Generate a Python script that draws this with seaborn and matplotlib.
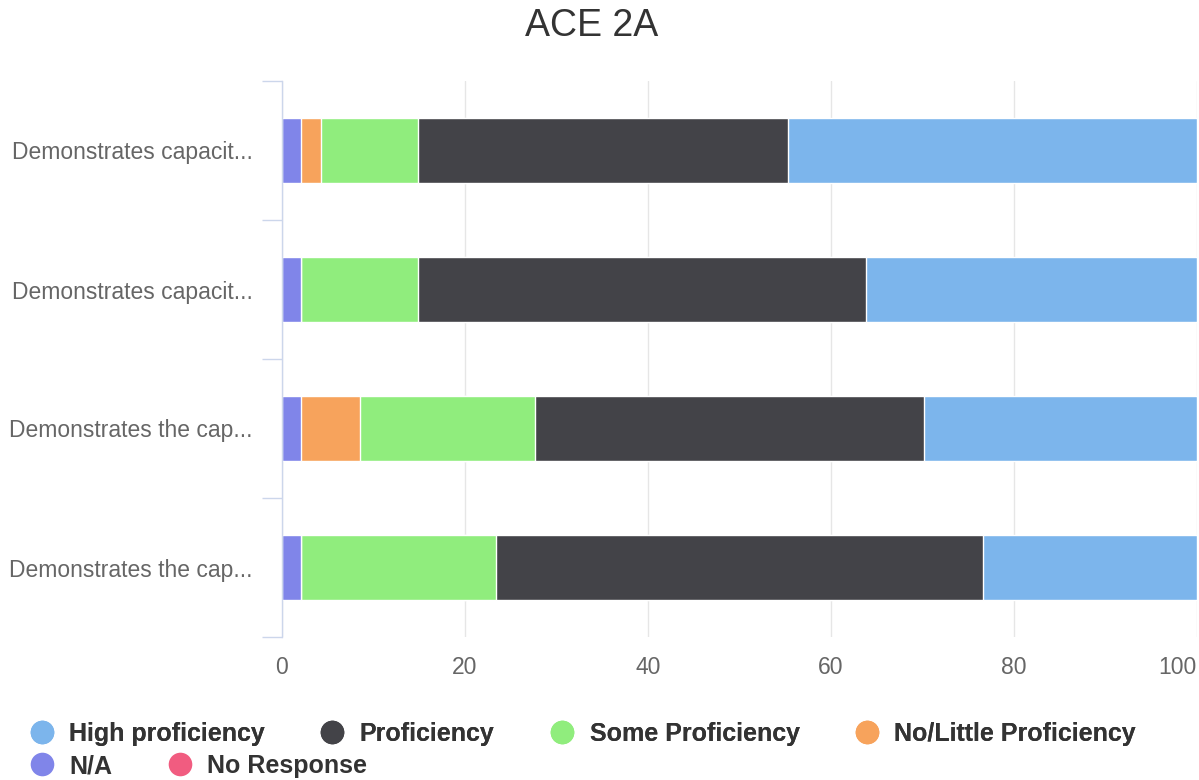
import numpy as np
import pandas as pd
import seaborn as sns
import matplotlib.pyplot as plt
from matplotlib.lines import Line2D

sns.set_theme(style="white")
plt.rcParams['font.family'] = ['Liberation Sans', 'DejaVu Sans']

# Survey items (ids keep duplicated truncated labels apart) and their shown labels
item_ids = ["q1", "q2", "q3", "q4"]
item_labels = [
    "Demonstrates capacit...",
    "Demonstrates capacit...",
    "Demonstrates the cap...",
    "Demonstrates the cap...",
]

# Percentage of responses per rating
high = [44.68, 36.17, 29.79, 23.40]
prof = [40.43, 48.94, 42.55, 53.19]
some = [10.64, 12.77, 19.15, 21.28]
little = [2.13, 0.00, 6.38, 0.00]
na = [2.13, 2.13, 2.13, 2.13]
no_resp = [0.00, 0.00, 0.00, 0.00]

series_names = ["High proficiency", "Proficiency", "Some Proficiency",
                "No/Little Proficiency", "N/A", "No Response"]
series_colors = ["#7cb5ec", "#434348", "#90ed7d", "#f7a35c", "#8085e9", "#f15c80"]

df = pd.DataFrame({
    "High proficiency": high,
    "Proficiency": prof,
    "Some Proficiency": some,
    "No/Little Proficiency": little,
    "N/A": na,
    "No Response": no_resp,
}, index=item_ids)

# Segments run left to right in reverse legend order
stack_order = series_names[::-1]
cum = df[stack_order].cumsum(axis=1)
color_of = dict(zip(series_names, series_colors))

fig = plt.figure(figsize=(11.99, 7.8), dpi=100)
ax = fig.add_axes([282 / 1199, 1 - 637 / 780, 915 / 1199, 556 / 780])

# Draw cumulative bars from the longest down so each segment shows its own share
for name in reversed(stack_order):
    vals = cum[name].values
    if vals.max() <= 0:
        continue
    sns.barplot(x=vals, y=item_ids, orient="h", color=color_of[name],
                saturation=1, width=0.47, edgecolor="white", linewidth=1,
                ax=ax)

ax.set_xlim(0, 100)
ax.set_ylim(3.5, -0.5)
ax.set_xticks(np.arange(0, 101, 20))
ax.set_xlabel("")
ax.set_ylabel("")
ax.grid(axis="x", color="#e6e6e6", linewidth=1)
ax.grid(axis="y", visible=False)
ax.set_axisbelow(True)

for side in ["top", "right", "bottom"]:
    ax.spines[side].set_visible(False)
ax.spines["left"].set_color("#ccd6eb")
ax.spines["left"].set_linewidth(1)

ax.set_yticks(range(len(item_ids)))
ax.set_yticklabels(item_labels)
ax.set_yticks(np.arange(-0.5, len(item_ids), 1), minor=True)
ax.tick_params(axis="y", which="major", length=0, pad=21,
               labelsize=16.5, labelcolor="#666666")
ax.tick_params(axis="y", which="minor", left=True, length=14.5, width=1,
               color="#ccd6eb")
ax.tick_params(axis="x", length=0, pad=14, labelsize=16.5,
               labelcolor="#666666")
# keep the last x label inside the figure edge
ax.get_xticklabels()[-1].set_horizontalalignment("right")

fig.text(592 / 1199, 1 - 26 / 780, "ACE 2A", ha="center", va="center",
         fontsize=27, color="#333333")

handles = [Line2D([], [], marker="o", linestyle="none", markersize=17,
                  markerfacecolor=c, markeredgewidth=0) for c in series_colors]
legend_kw = dict(loc="center left", frameon=False, borderpad=0,
                 borderaxespad=0, handlelength=1.0, handletextpad=0.6,
                 columnspacing=2.2, labelcolor="#333333",
                 prop={"weight": "bold", "size": 18})
leg1 = fig.legend(handles[:4], series_names[:4], ncol=4,
                  bbox_to_anchor=(29 / 1199, 1 - 734 / 780), **legend_kw)
fig.add_artist(leg1)
fig.legend(handles[4:], series_names[4:], ncol=2,
           bbox_to_anchor=(29 / 1199, 1 - 766 / 780), **legend_kw)

fig.savefig("out.png", dpi=100)
